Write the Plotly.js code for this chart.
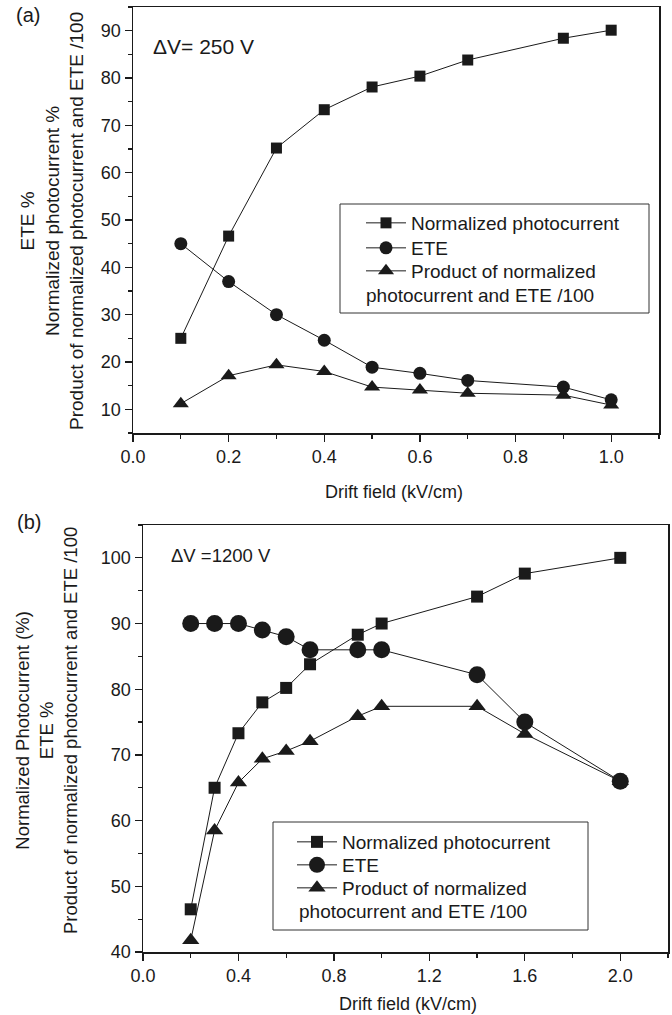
<!DOCTYPE html>
<html>
<head>
<meta charset="utf-8">
<script src="https://cdn.plot.ly/plotly-3.0.1.min.js"></script>
<style>html,body{margin:0;padding:0;background:#fff;}#chart{width:672px;height:1015px;}</style>
</head>
<body>
<div id="chart"></div>
<script>
// ---- Data (a): ΔV = 250 V ----
var driftA = [0.1, 0.2, 0.3, 0.4, 0.5, 0.6, 0.7, 0.9, 1.0];
var photoA = [25, 46.6, 65.2, 73.3, 78.1, 80.4, 83.8, 88.4, 90.1];
var eteA   = [45, 37, 30, 24.6, 18.9, 17.6, 16.1, 14.7, 12];
var prodA  = [11.2, 17.1, 19.4, 18.0, 14.7, 14.1, 13.4, 13.0, 10.9];

// ---- Data (b): ΔV = 1200 V ----
var driftB = [0.2, 0.3, 0.4, 0.5, 0.6, 0.7, 0.9, 1.0, 1.4, 1.6, 2.0];
var photoB = [46.5, 65, 73.3, 78, 80.2, 83.8, 88.3, 90, 94.1, 97.6, 100];
var eteB   = [90, 90, 90, 89, 88, 86, 86, 86, 82.2, 75, 66];
var prodB  = [41.8, 58.5, 65.8, 69.4, 70.6, 72.1, 75.9, 77.4, 77.4, 73.2, 66];

var seriesNames = ['Normalized photocurrent', 'ETE', 'Product of normalized'];
var wrapLine = 'photocurrent and ETE /100';

var FONT = 'Liberation Sans, Arial, Helvetica, sans-serif';
var INK = '#1a1a1a';
var W = 672, H = 1015;
function px(x){ return x / W; }
function py(y){ return 1 - y / H; }

function tr(x, y, name, sym, size, xa, ya, lg){
  return {x: x, y: y, name: name, type: 'scatter', mode: 'lines+markers',
    xaxis: xa, yaxis: ya, legend: lg,
    line: {color: INK, width: 1},
    marker: {symbol: sym, size: size, color: INK}};
}

var data = [
  tr(driftA, photoA, seriesNames[0], 'square', 11, 'x', 'y', 'legend'),
  tr(driftA, eteA, seriesNames[1], 'circle', 13, 'x', 'y', 'legend2'),
  tr(driftA, prodA, seriesNames[2], 'triangle-up', 14, 'x', 'y', 'legend3'),
  tr(driftB, photoB, seriesNames[0], 'square', 12, 'x2', 'y2', 'legend4'),
  tr(driftB, eteB, seriesNames[1], 'circle', 17, 'x2', 'y2', 'legend5'),
  tr(driftB, prodB, seriesNames[2], 'triangle-up', 15, 'x2', 'y2', 'legend6')
];

function axisBase(){
  return {showgrid: false, zeroline: false, showline: true, mirror: true,
    linecolor: INK, linewidth: 1.5, ticks: 'outside', ticklen: 7, tickwidth: 1.3,
    tickcolor: INK, tickfont: {family: FONT, size: 18, color: INK}};
}

var xa = axisBase();
Object.assign(xa, {domain: [px(133), px(659)], anchor: 'y', range: [0, 1.1],
  dtick: 0.2, tick0: 0, tickformat: '.1f',
  minor: {dtick: 0.1, ticklen: 4, tickcolor: INK, tickwidth: 1.3, ticks: 'outside'}});
var ya = axisBase();
Object.assign(ya, {domain: [py(433), py(7)], anchor: 'x', range: [5, 95],
  dtick: 10, tick0: 0,
  minor: {dtick: 5, ticklen: 4, tickcolor: INK, tickwidth: 1.3, ticks: 'outside'}});
var xa2 = axisBase();
Object.assign(xa2, {domain: [px(143), px(668)], anchor: 'y2', range: [0, 2.2],
  dtick: 0.4, tick0: 0, tickformat: '.1f',
  minor: {dtick: 0.2, ticklen: 4, tickcolor: INK, tickwidth: 1.3, ticks: 'outside'}});
var ya2 = axisBase();
Object.assign(ya2, {domain: [py(952), py(525)], anchor: 'x2', range: [40, 105],
  dtick: 10, tick0: 0,
  minor: {dtick: 5, ticklen: 4, tickcolor: INK, tickwidth: 1.3, ticks: 'outside'}});

function ann(text, x, y, size, opts){
  var a = {text: text, xref: 'paper', yref: 'paper', x: px(x), y: py(y),
    showarrow: false, font: {family: FONT, size: size, color: INK},
    xanchor: 'center', yanchor: 'middle'};
  return Object.assign(a, opts || {});
}

var annotations = [
  ann('(a)', 14, 15, 20, {xanchor: 'left'}),
  ann('(b)', 15, 522, 20, {xanchor: 'left'}),
  ann('\u0394V= 250 V', 151, 47, 21, {xanchor: 'left'}),
  ann('\u0394V =1200 V', 169, 555, 18.5, {xanchor: 'left'}),
  ann('ETE %<br>Normalized photocurrent %<br>Product of normalized photocurrent and ETE /100',
      52, 221, 19, {textangle: -90}),
  ann('Normalized Photocurrent (%)<br>ETE %<br>Product of normalized photocurrent and ETE /100',
      46, 731, 18.5, {textangle: -90}),
  ann('Drift field (kV/cm)', 394, 492, 18),
  ann('Drift field (kV/cm)', 408, 1004, 18),
  ann(wrapLine, 364, 295, 19, {xanchor: 'left'}),
  ann(wrapLine, 297, 911, 19, {xanchor: 'left'})
];

var shapes = [
  {type: 'rect', xref: 'paper', yref: 'paper', x0: px(340), x1: px(649), y0: py(313), y1: py(204),
   line: {color: '#333', width: 1}, fillcolor: 'rgba(0,0,0,0)'},
  {type: 'rect', xref: 'paper', yref: 'paper', x0: px(273), x1: px(588), y0: py(930), y1: py(822),
   line: {color: '#333', width: 1}, fillcolor: 'rgba(0,0,0,0)'}
];

function legendCfg(x, y){
  return {x: px(x), y: py(y), xanchor: 'left', yanchor: 'middle', xref: 'paper', yref: 'paper',
    bgcolor: 'rgba(0,0,0,0)', borderwidth: 0, itemwidth: 40, tracegroupgap: 0,
    font: {family: FONT, size: 19, color: INK}, itemclick: false};
}

var layout = {
  width: W, height: H,
  margin: {l: 0, r: 0, t: 0, b: 0},
  paper_bgcolor: '#fff', plot_bgcolor: '#fff',
  showlegend: true,
  xaxis: xa, yaxis: ya, xaxis2: xa2, yaxis2: ya2,
  legend: legendCfg(361, 223),
  legend2: legendCfg(361, 248),
  legend3: legendCfg(361, 271),
  legend4: legendCfg(292, 842),
  legend5: legendCfg(292, 865),
  legend6: legendCfg(292, 888),
  annotations: annotations,
  shapes: shapes
};

Plotly.newPlot('chart', data, layout, {displayModeBar: false, staticPlot: true});
</script>
</body>
</html>
